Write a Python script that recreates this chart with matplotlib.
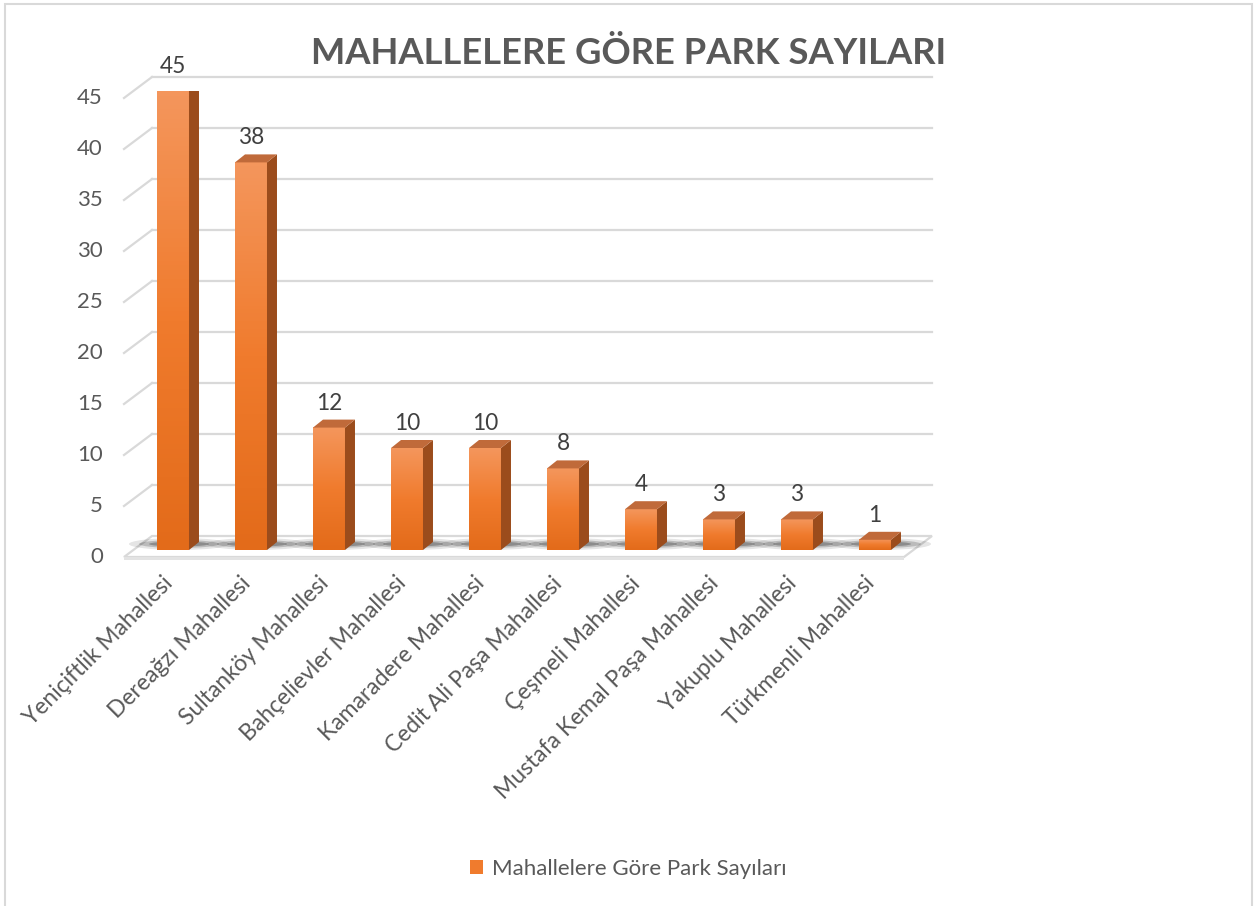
import numpy as np
import matplotlib
matplotlib.use("Agg")
import matplotlib.pyplot as plt
from matplotlib.patches import Polygon, Ellipse, Rectangle, Patch
from matplotlib.colors import LinearSegmentedColormap

plt.rcParams['font.family'] = ['Lato', 'DejaVu Sans']

# Veriler
mahalleler = ["Yeniçiftlik Mahallesi", "Dereağzı Mahallesi", "Sultanköy Mahallesi",
              "Bahçelievler Mahallesi", "Kamaradere Mahallesi", "Cedit Ali Paşa Mahallesi",
              "Çeşmeli Mahallesi", "Mustafa Kemal Paşa Mahallesi", "Yakuplu Mahallesi",
              "Türkmenli Mahallesi"]
park_sayilari = [45, 38, 12, 10, 10, 8, 4, 3, 3, 1]
y_ticks = [0, 5, 10, 15, 20, 25, 30, 35, 40, 45]
baslik = "MAHALLELERE GÖRE PARK SAYILARI"
seri_adi = "Mahallelere Göre Park Sayıları"

W, H = 1257, 906
fig = plt.figure(figsize=(W / 100, H / 100), dpi=100)
# eksen kutusu: ön düzlem, piksel olarak
ax_l, ax_r, ax_b, ax_t = 134, 914, 550, 91
ax = fig.add_axes([ax_l / W, (H - ax_b) / H, (ax_r - ax_l) / W, (ax_b - ax_t) / H])
n = len(mahalleler)
ax.set_xlim(-0.5, n - 0.5)
ax.set_ylim(0, 45)
ax.axis('off')

sx = n / (ax_r - ax_l)
sy = 45 / (ax_b - ax_t)


def px(dx, dy):
    # piksel kaydırmasını veri birimine çevir (dy yukarı pozitif)
    return dx * sx, dy * sy


grid_c = '#d9d9d9'
text_c = '#595959'
bx, by = px(18, 14)    # arka düzlem
fx, fy = px(-10, -7)   # ön duvar kenarı
x0, x1 = -0.5, n - 0.5

# ızgara çizgileri (arka duvar + sol duvar)
for v in y_ticks[1:]:
    ax.plot([x0 + bx, x1 + bx], [v + by, v + by], color=grid_c, lw=1.6, zorder=0, clip_on=False)
    ax.plot([x0 + fx, x0 + bx], [v + fy, v + by], color=grid_c, lw=1.6, zorder=0, clip_on=False)

# zemin
tx, ty = px(0, -3)
floor = Polygon([(x0 + fx, fy), (x1 + fx, fy), (x1 + bx, by), (x0 + bx, by)], closed=True,
                facecolor='white', edgecolor=grid_c, lw=1.6, zorder=1, clip_on=False)
ax.add_patch(floor)
strip = Polygon([(x0 + fx, fy), (x1 + fx, fy), (x1 + fx, fy + ty), (x0 + fx, fy + ty)], closed=True,
                facecolor='#e3e3e3', edgecolor='none', zorder=1, clip_on=False)
ax.add_patch(strip)

# y ekseni etiketleri
for v in y_ticks:
    lx, _ = px(-21, 0)
    ax.text(x0 + fx + lx, v + fy, str(v), ha='right', va='center', fontsize=16,
            color=text_c, clip_on=False)

# sütunlar
w = 0.41
dx, dy = px(10, 8)
grad = LinearSegmentedColormap.from_list('g', ['#E36B1A', '#F07B2D', '#F4965C'])
shx, shy = px(6, 6)
for i, v in enumerate(park_sayilari):
    # gölge
    for ew, eh, a in [(100, 12, 0.10), (80, 8, 0.18), (60, 5, 0.25)]:
        ew_d, eh_d = px(ew, eh)
        ax.add_patch(Ellipse((i + shx, shy), ew_d, eh_d, facecolor='black', alpha=a,
                             edgecolor='none', zorder=2, clip_on=False))
    ax.bar(i, v, width=w, color='#F07B2D', zorder=3)
    ax.imshow(np.linspace(0, 1, 100).reshape(-1, 1), cmap=grad, origin='lower', aspect='auto',
              extent=(i - w / 2, i + w / 2, 0, v), zorder=3.1)
    side = Polygon([(i + w / 2, 0), (i + w / 2 + dx, dy), (i + w / 2 + dx, v + dy), (i + w / 2, v)],
                   closed=True, facecolor='#9B4C1C', edgecolor='none', zorder=3.2)
    top = Polygon([(i - w / 2, v), (i + w / 2, v), (i + w / 2 + dx, v + dy), (i - w / 2 + dx, v + dy)],
                  closed=True, facecolor='#C06A3A', edgecolor='none', zorder=3.2)
    ax.add_patch(side)
    ax.add_patch(top)
    _, ly = px(0, 14)
    ax.text(i, v + ly, str(v), ha='center', va='bottom', fontsize=16.3, color='#404040', zorder=5)
    kx, ky = px(-4, -30)
    ax.text(i + kx, ky, mahalleler[i], rotation=45, ha='right', va='center',
            rotation_mode='anchor', fontsize=16.5, color=text_c, clip_on=False)

ax.set_xlim(-0.5, n - 0.5)
ax.set_ylim(0, 45)

fig.text(0.5, 1 - 54 / H, baslik, ha='center', va='center', fontsize=26.2,
         fontweight='bold', color=text_c)

leg = fig.legend(handles=[Patch(facecolor='#F07B2D')], labels=[seri_adi], loc='center',
                 bbox_to_anchor=(0.5, (H - 869) / H), frameon=False, fontsize=16,
                 handlelength=0.6, handleheight=0.6, handletextpad=0.4)
for t in leg.get_texts():
    t.set_color(text_c)

fig.patches.append(Rectangle((5 / W, -0.1), 1247 / W, 1.1 - 4 / H, transform=fig.transFigure,
                             fill=False, edgecolor=grid_c, lw=1.5))

fig.savefig("out.png", dpi=100)
